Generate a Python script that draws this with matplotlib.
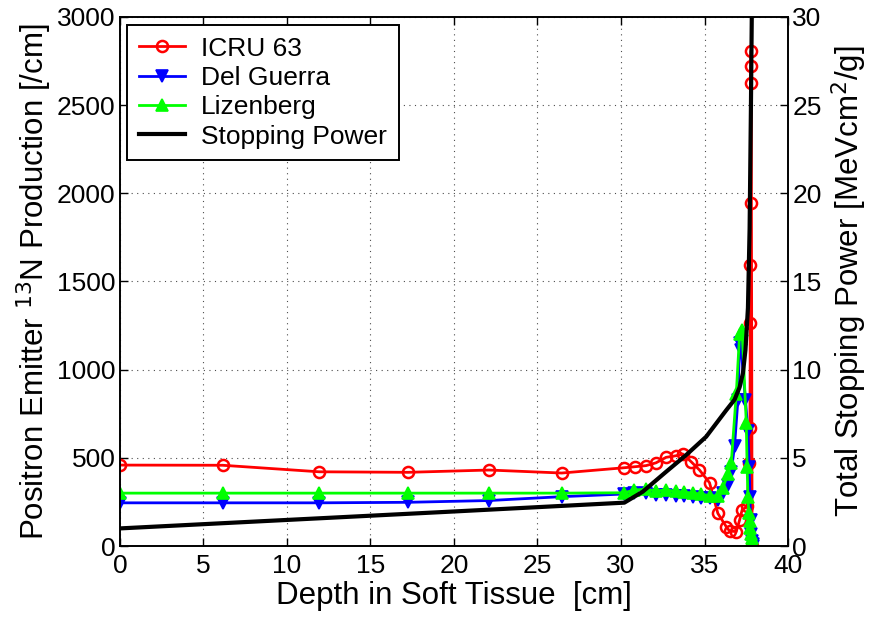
import matplotlib
matplotlib.use("Agg")
import matplotlib.pyplot as plt

plt.rcParams['font.family'] = ['Liberation Sans', 'DejaVu Sans']

# ICRU 63
icru_x = [0, 6.15, 11.93, 17.26, 22.1, 26.45, 30.2, 30.86, 31.5, 32.1, 32.7, 33.3, 33.7,
          34.2, 34.7, 35.3, 35.8, 36.3, 36.5, 36.9, 37.1, 37.25, 37.55, 37.68, 37.72,
          37.74, 37.75, 37.76, 37.77, 37.78, 37.79, 37.85]
icru_y = [459, 458, 421, 418, 431, 414, 444, 450, 456, 472, 503, 512, 522,
          478, 431, 359, 185, 110, 85, 82, 147, 204, 225, 470, 668,
          1267, 1594, 1947, 2628, 2722, 2809, 0]

# Del Guerra
dg_x = [0, 6.15, 11.93, 17.26, 22.1, 26.45, 30.2, 30.8, 31.5, 32.1, 32.7, 33.3, 33.8,
        34.3, 34.8, 35.3, 35.8, 36.1, 36.4, 36.6, 36.8, 37.0, 37.1, 37.2, 37.45, 37.6,
        37.68, 37.72, 37.76, 37.8, 37.84, 37.88, 37.92]
dg_y = [245, 245, 245, 248, 258, 280, 295, 300, 298, 290, 290, 285, 282,
        280, 275, 270, 262, 300, 345, 420, 570, 830, 1150, 1110, 830, 650,
        450, 280, 150, 70, 30, 10, 0]

# Lizenberg
lz_x = [0, 6.15, 11.93, 17.26, 22.1, 26.45, 30.2, 30.8, 31.5, 32.1, 32.7, 33.3, 33.8,
        34.3, 34.8, 35.3, 35.8, 36.1, 36.4, 36.6, 36.9, 37.1, 37.25, 37.5, 37.55,
        37.6, 37.65, 37.7, 37.74, 37.78, 37.82, 37.86, 37.9, 37.94]
lz_y = [300, 300, 300, 300, 300, 300, 302, 318, 322, 312, 318, 310, 305,
        300, 295, 285, 285, 330, 410, 470, 860, 1200, 1225, 700, 450,
        280, 190, 140, 100, 70, 45, 25, 10, 0]

# Stopping power (right axis)
sp_x = [0, 10, 20, 30.2, 31.3, 32.7, 33.9, 35.1, 36.3, 36.8, 37.1, 37.3, 37.45, 37.6,
        37.7, 37.78, 37.85]
sp_y = [1.0, 1.48, 1.96, 2.46, 3.08, 4.21, 5.16, 6.2, 7.7, 8.3, 9.0, 9.8, 11.1, 13.5,
        18.0, 25.0, 32.0]

fig = plt.figure(figsize=(8.75, 6.17), dpi=100)
ax = fig.add_axes([0.137, 0.115, 0.7636, 0.8576])
ax2 = ax.twinx()

l1, = ax.plot(icru_x, icru_y, color='red', lw=2, marker='o', ms=8, mfc='none', mew=1.8)
l2, = ax.plot(dg_x, dg_y, color='blue', lw=2, marker='v', ms=8, mfc='blue', mew=1.2)
l3, = ax.plot(lz_x, lz_y, color='#00ff00', lw=2, marker='^', ms=8, mfc='#00ff00', mew=1.2)
l4, = ax2.plot(sp_x, sp_y, color='black', lw=3)

ax.set_xlim(0, 40)
ax.set_ylim(0, 3000)
ax2.set_ylim(0, 30)
ax.set_xticks(range(0, 41, 5))
ax.set_yticks(range(0, 3001, 500))
ax2.set_yticks(range(0, 31, 5))

ax.grid(True, linestyle=(0, (1, 4)), color='black', lw=0.8, alpha=0.7)
for a in (ax, ax2):
    a.tick_params(direction='in', labelsize=19, length=6, width=1, pad=3)
    for s in a.spines.values():
        s.set_linewidth(1.2)
ax.tick_params(top=True)
ax.tick_params(axis='x', pad=6)

ax.set_xlabel('Depth in Soft Tissue  [cm]', fontsize=22.5, labelpad=2)
ax.set_ylabel('Positron Emitter $^{13}$N Production [/cm]', fontsize=22.5, labelpad=2)
ax2.set_ylabel('Total Stopping Power [MeVcm$^{2}$/g]', fontsize=22.5, labelpad=6)

leg = ax2.legend([l1, l2, l3, l4], ['ICRU 63', 'Del Guerra', 'Lizenberg', 'Stopping Power'],
                 loc='upper left', bbox_to_anchor=(0.0105, 0.985), borderaxespad=0,
                 fontsize=19, frameon=True, fancybox=False, edgecolor='black',
                 framealpha=1, handlelength=1.75, borderpad=0.45, labelspacing=0.2,
                 handletextpad=0.6)
leg.get_frame().set_linewidth(1.4)
leg.set_zorder(10)

fig.savefig('out.png', dpi=100)
